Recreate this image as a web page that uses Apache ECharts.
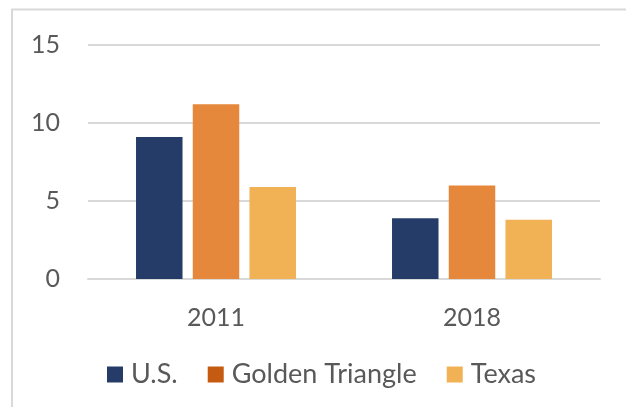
<!DOCTYPE html>
<html>
<head>
<meta charset="utf-8">
<script src="https://cdn.jsdelivr.net/npm/echarts@6/dist/echarts.min.js"></script>
<style>
html, body { margin: 0; padding: 0; background: #fff; }
#chart { width: 626px; height: 407px; }
</style>
</head>
<body>
<div id="chart"></div>
<script>
var years = ['2011', '2018'];
var usValues = [9.1, 3.9];
var goldenTriangleValues = [11.2, 6.0];
var texasValues = [5.9, 3.8];

var chart = echarts.init(document.getElementById('chart'));
var font = 'Lato, "Open Sans", sans-serif';

var option = {
	animation: false,
	backgroundColor: '#fff',
	color: ['#253C68', '#E6883B', '#F1B255'],
	graphic: [{
		type: 'rect',
		shape: { x: 12, y: 9.5, width: 700, height: 500 },
		style: { fill: 'none', stroke: '#D9D9D9', lineWidth: 2 },
		silent: true
	}],
	grid: { left: 88, right: 26, top: 45, bottom: 128 },
	legend: {
		top: 356,
		left: 102,
		itemWidth: 16,
		itemHeight: 16,
		itemGap: 30,
		icon: 'rect',
		textStyle: { fontFamily: font, fontSize: 27, color: '#595959', padding: [0, 0, 0, 3] },
		data: [
			{ name: 'U.S.' },
			{ name: 'Golden Triangle', itemStyle: { color: '#C55A11' } },
			{ name: 'Texas' }
		]
	},
	xAxis: {
		type: 'category',
		data: years,
		axisLine: { show: true, lineStyle: { color: '#D9D9D9', width: 2 } },
		axisTick: { show: false },
		axisLabel: { fontFamily: font, fontSize: 25, color: '#595959', margin: 26 }
	},
	yAxis: {
		type: 'value',
		min: 0,
		max: 15,
		interval: 5,
		axisLine: { show: false },
		axisTick: { show: false },
		axisLabel: { fontFamily: font, fontSize: 25, color: '#595959', margin: 28 },
		splitLine: { lineStyle: { color: '#D9D9D9', width: 2 } }
	},
	series: [
		{ name: 'U.S.', type: 'bar', data: usValues, barWidth: 46.5, barGap: '22%' },
		{ name: 'Golden Triangle', type: 'bar', data: goldenTriangleValues, barWidth: 46.5, barGap: '22%' },
		{ name: 'Texas', type: 'bar', data: texasValues, barWidth: 46.5, barGap: '22%' }
	]
};
chart.setOption(option);
</script>
</body>
</html>
